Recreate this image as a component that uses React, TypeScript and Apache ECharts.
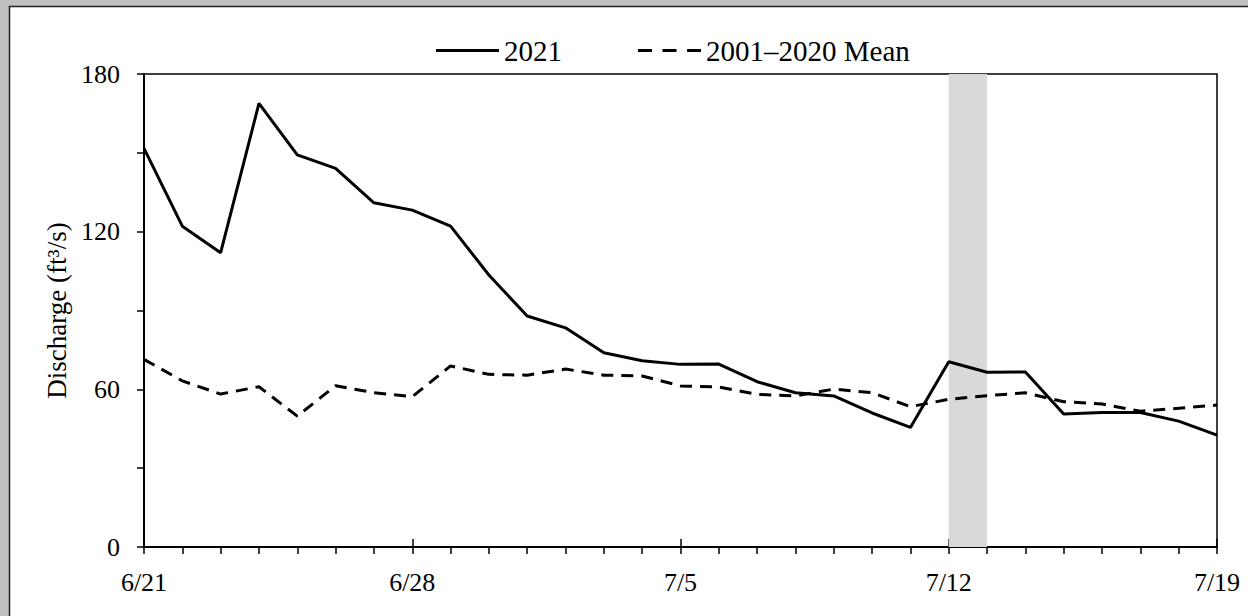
import React, { useEffect, useRef } from "react";
import * as echarts from "echarts";

const dates = [
  "6/21", "6/22", "6/23", "6/24", "6/25", "6/26", "6/27", "6/28", "6/29", "6/30",
  "7/1", "7/2", "7/3", "7/4", "7/5", "7/6", "7/7", "7/8", "7/9", "7/10",
  "7/11", "7/12", "7/13", "7/14", "7/15", "7/16", "7/17", "7/18", "7/19",
];
const discharge2021 = [
  151.7, 122.1, 112, 168.8, 149.2, 144.1, 131, 128.2, 122.1, 103.5,
  87.9, 83.4, 73.9, 70.9, 69.5, 69.6, 62.9, 58.7, 57.5, 51,
  45.5, 70.5, 66.5, 66.6, 50.6, 51.2, 51.2, 47.9, 42.6,
];
const mean2001to2020 = [
  71.4, 63.2, 58.2, 61, 49.8, 61.4, 58.7, 57.2, 68.9, 65.7,
  65.4, 67.7, 65.4, 65.1, 61.3, 60.9, 58.1, 57.5, 60.1, 58.7,
  53.4, 56.2, 57.6, 58.7, 55.3, 54.4, 51.7, 52.8, 54,
];
const shadeRange = ["7/12", "7/13"];
const seriesNames = ["2021", "2001–2020 Mean"];

const FONT = "Liberation Serif";
const SOLID_ICON = "path://M0 0h63v3H0z";
const DASH_ICON = "path://M0 0h14v3H0zM24.5 0h14v3H24.5zM49 0h14v3H49z";

export default function App() {
  const ref = useRef<HTMLDivElement>(null);
  useEffect(() => {
    if (!ref.current) return;
    const chart = echarts.init(ref.current, null, { renderer: "svg" });
    chart.setOption({
      animation: false,
      backgroundColor: "#c0c0c0",
      textStyle: { fontFamily: FONT, color: "#000" },
      graphic: [
        {
          type: "rect",
          z: -10,
          shape: { x: 9.5, y: 6.5, width: 1260, height: 640 },
          style: { fill: "#fff", stroke: "#222", lineWidth: 1.5 },
        },
      ],
      legend: {
        data: [
          { name: seriesNames[0], icon: SOLID_ICON },
          { name: seriesNames[1], icon: DASH_ICON },
        ],
        left: 431,
        top: 31,
        itemWidth: 63,
        itemHeight: 3,
        itemGap: 76,
        itemStyle: { color: "#000", borderWidth: 0 },
        textStyle: { fontFamily: FONT, fontSize: 29, color: "#000" },
      },
      grid: {
        left: 144,
        right: 31,
        top: 74,
        bottom: 69,
        show: true,
        borderColor: "#000",
        borderWidth: 1.5,
        backgroundColor: "transparent",
      },
      xAxis: [
        {
          type: "category",
          data: dates,
          boundaryGap: false,
          axisLine: { lineStyle: { color: "#000", width: 2 } },
          axisTick: { show: true, interval: 0, length: 7, lineStyle: { color: "#000", width: 1.5 } },
          axisLabel: {
            interval: 6,
            margin: 22,
            fontFamily: FONT,
            fontSize: 26,
            color: "#000",
          },
          splitLine: { show: false },
        },
        {
          type: "category",
          data: dates,
          boundaryGap: false,
          position: "bottom",
          axisLine: { show: false },
          axisTick: { show: true, inside: true, interval: 6, length: 8, lineStyle: { color: "#000", width: 1.5 } },
          axisLabel: { show: false },
          splitLine: { show: false },
        },
      ],
      yAxis: {
        type: "value",
        min: 0,
        max: 180,
        interval: 30,
        name: "Discharge (ft³/s)",
        nameLocation: "middle",
        nameGap: 74,
        nameTextStyle: { fontFamily: FONT, fontSize: 27, color: "#000" },
        axisLine: { show: true, lineStyle: { color: "#000", width: 2 } },
        axisTick: { show: true, length: 7, lineStyle: { color: "#000", width: 1.5 } },
        axisLabel: {
          margin: 24,
          fontFamily: FONT,
          fontSize: 26,
          color: "#000",
          formatter: (v: number) => (v % 60 === 0 ? String(v) : ""),
        },
        splitLine: { show: false },
      },
      series: [
        {
          name: "shade",
          type: "line",
          data: [],
          z: 1,
          markArea: {
            silent: true,
            itemStyle: { color: "#d9d9d9" },
            data: [[{ xAxis: shadeRange[0] }, { xAxis: shadeRange[1] }]],
          },
        },
        {
          name: seriesNames[0],
          type: "line",
          data: discharge2021,
          symbol: "none",
          z: 3,
          lineStyle: { color: "#000", width: 3, type: "solid" },
          itemStyle: { color: "#000" },
        },
        {
          name: seriesNames[1],
          type: "line",
          data: mean2001to2020,
          symbol: "none",
          z: 3,
          lineStyle: { color: "#000", width: 3, type: [12, 8] },
          itemStyle: { color: "#000" },
        },
      ],
    });
    return () => chart.dispose();
  }, []);
  return (
    <div
      ref={ref}
      style={{ position: "fixed", left: 0, top: 0, width: 1248, height: 616 }}
    />
  );
}
